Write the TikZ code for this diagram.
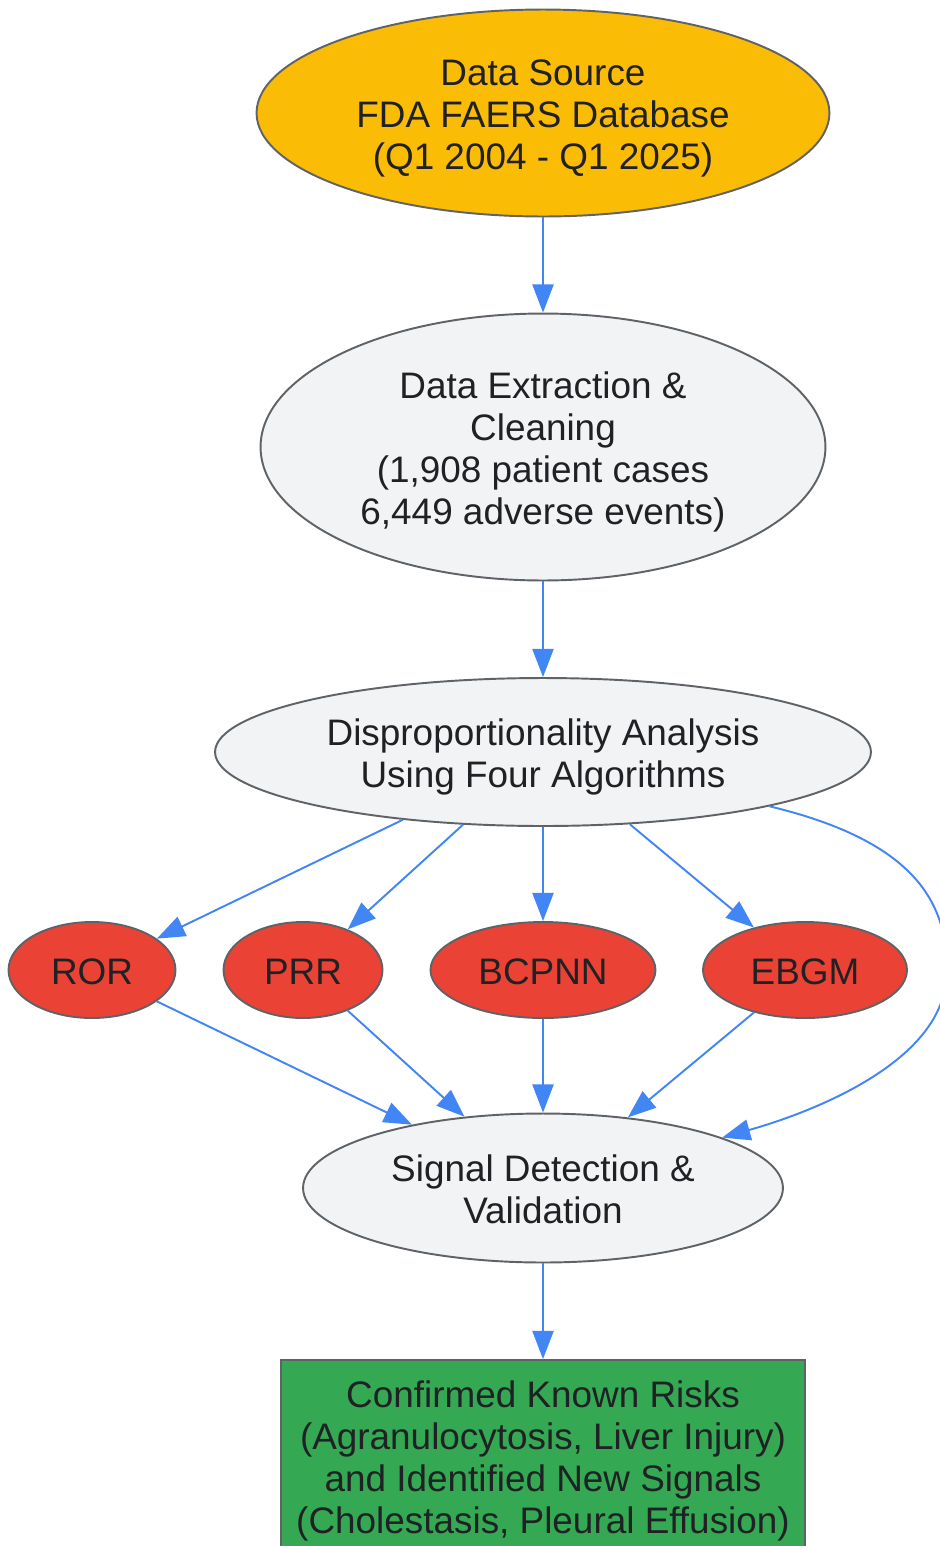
\documentclass[tikz,border=0pt]{standalone}
\usepackage{fontspec}
\setmainfont{Liberation Sans}
\usetikzlibrary{shapes.geometric,arrows.meta}
\definecolor{srcyellow}{HTML}{FBBC05}
\definecolor{stepgray}{HTML}{F1F3F4}
\definecolor{algred}{HTML}{EA4335}
\definecolor{resgreen}{HTML}{34A853}
\definecolor{rim}{HTML}{5F6368}
\definecolor{ink}{HTML}{202124}
\definecolor{link}{HTML}{4285F4}
\newcommand{\celltext}[1]{\raisebox{-0.3cm}[0pt][0pt]{\begin{tabular}{@{}c@{}}#1\end{tabular}}}
\begin{document}
\begin{tikzpicture}[x=0.02cm,y=-0.02cm,
	box/.style={ellipse,draw=rim,line width=1.1pt,inner sep=0pt,text=ink,font=\fontsize{21}{24}\selectfont},
	algo/.style={box,fill=algred,minimum height=1.92cm},
	edge/.style={draw=link,line width=1.1pt,-{Triangle[length=16pt,width=12pt]}}]
								\useasboundingbox (0,0) rectangle (940,1546);
								\node[box,fill=srcyellow,minimum width=11.46cm,minimum height=4.14cm] (src) at (543,113) {\celltext{Data Source\\FDA FAERS Database\\(Q1 2004 - Q1 2025)}};
								\node[box,fill=stepgray,minimum width=11.3cm,minimum height=5.34cm] (ext) at (543,447) {\celltext{Data Extraction \&\\Cleaning\\(1,908 patient cases\\6,449 adverse events)}};
								\node[box,fill=stepgray,minimum width=13.12cm,minimum height=2.96cm] (dis) at (543,752) {\celltext{Disproportionality Analysis\\Using Four Algorithms}};
								\node[algo,minimum width=3.34cm] (ror) at (92,970) {\celltext{ROR}};
								\node[algo,minimum width=3.18cm] (prr) at (303,970) {\celltext{PRR}};
								\node[algo,minimum width=4.5cm] (bcpnn) at (543,970) {\celltext{BCPNN}};
								\node[algo,minimum width=4.08cm] (ebgm) at (805,970) {\celltext{EBGM}};
								\node[box,fill=stepgray,minimum width=9.6cm,minimum height=2.98cm] (sig) at (543,1188) {\celltext{Signal Detection \&\\Validation}};
								\node[box,rectangle,fill=resgreen,minimum width=10.5cm,minimum height=3.84cm] (res) at (543,1456) {\celltext{Confirmed Known Risks\\(Agranulocytosis, Liver Injury)\\and Identified New Signals\\(Cholestasis, Pleural Effusion)}};
								\draw[edge] (src) -- (ext);
								\draw[edge] (ext) -- (dis);
								\draw[edge] (dis) -- (ror);
								\draw[edge] (dis) -- (prr);
								\draw[edge] (dis) -- (bcpnn);
								\draw[edge] (dis) -- (ebgm);
								\draw[edge] (dis) .. controls (910,840) and (952,900) .. (946,980) .. controls (940,1060) and (820,1110) .. (sig);
								\draw[edge] (ror) -- (sig);
								\draw[edge] (prr) -- (sig);
								\draw[edge] (bcpnn) -- (sig);
								\draw[edge] (ebgm) -- (sig);
								\draw[edge] (sig) -- (res);
							\end{tikzpicture}
\end{document}
